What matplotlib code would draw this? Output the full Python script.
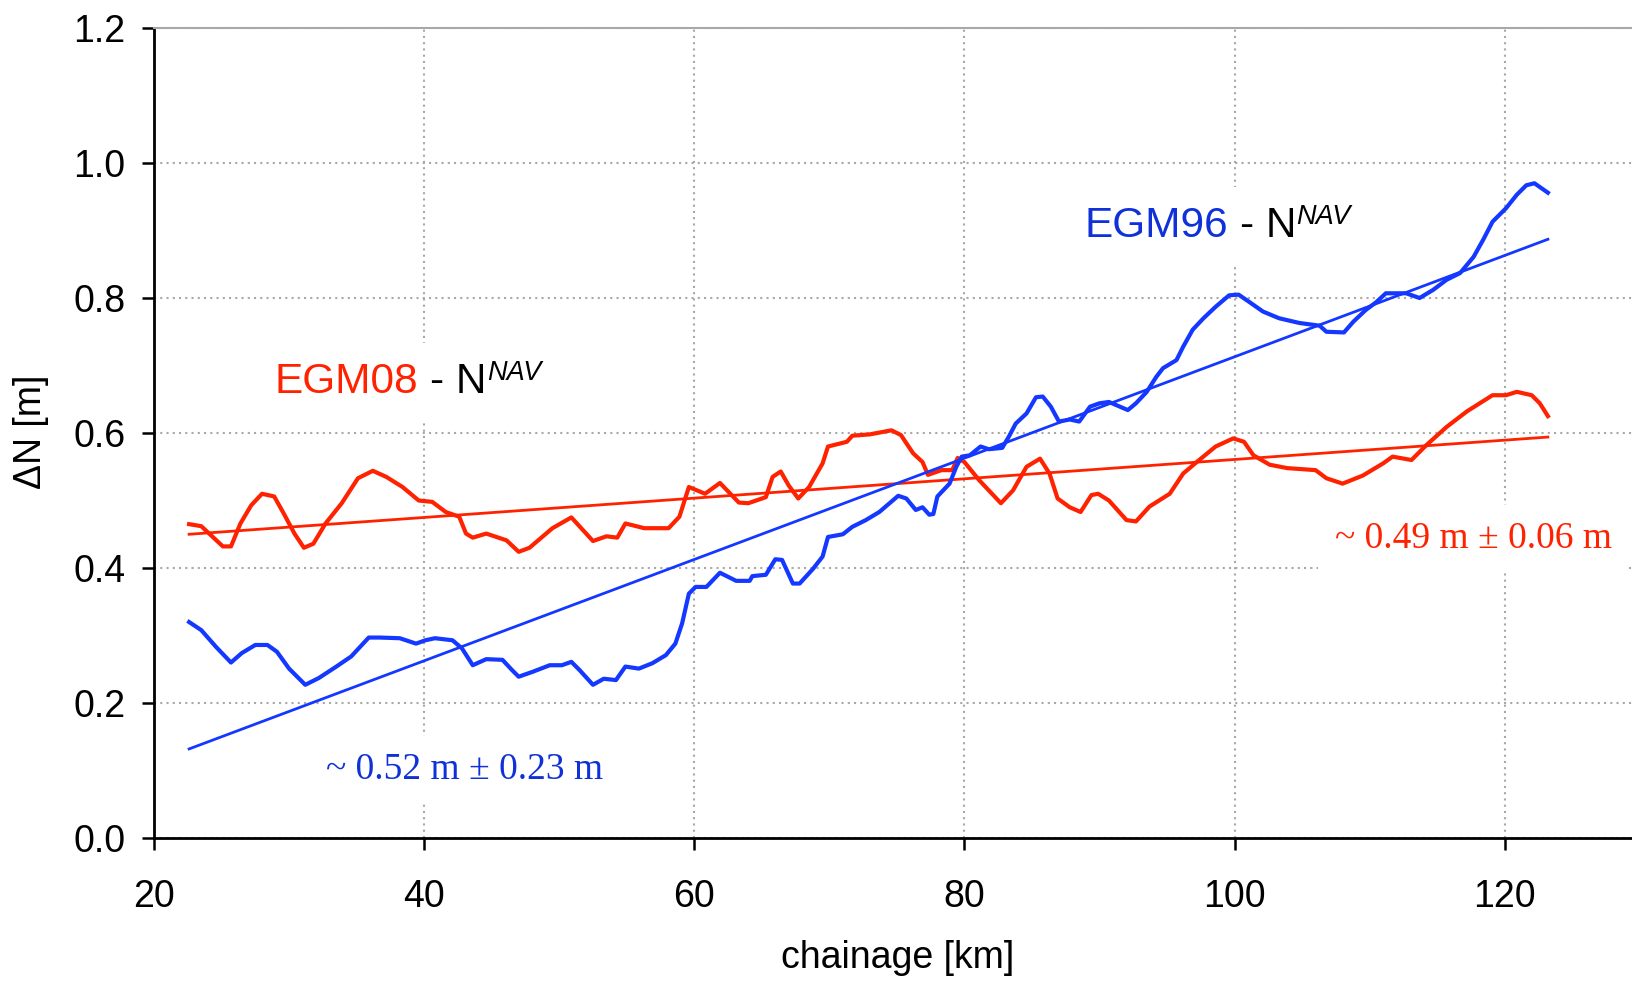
import matplotlib
matplotlib.use('Agg')
import matplotlib.pyplot as plt

plt.rcParams['font.family'] = ['Liberation Sans', 'DejaVu Sans']

RED = '#ff2200'
BLUE = '#1438ff'
BLUE_TXT = '#1030d8'

# ---- data ----
egm08_km = [22.6, 23.5, 25.1, 25.7, 26.4, 27.2, 28.0, 28.9, 29.6, 30.4,
            31.1, 31.8, 32.7, 33.9, 35.1, 36.2, 37.2, 38.4, 39.6, 40.6,
            41.6, 42.6, 43.1, 43.6, 44.6, 46.1, 47.0, 47.8, 49.5, 50.9,
            52.5, 53.5, 54.3, 54.9, 56.3, 58.1, 58.9, 59.6, 60.8, 61.9,
            63.3, 64.0, 65.3, 65.8, 66.4, 67.0, 67.7, 68.5, 69.5, 69.9,
            71.3, 71.7, 73.0, 74.6, 75.3, 76.2, 76.9, 77.3, 78.3, 79.1,
            79.5, 80.0, 81.1, 82.7, 83.6, 84.6, 85.6, 86.3, 86.9, 87.8,
            88.6, 89.4, 89.9, 90.7, 92.0, 92.7, 93.7, 95.2, 96.2, 97.2,
            98.6, 99.9, 100.7, 101.4, 102.6, 103.9, 106.0, 106.8, 108.0, 109.5,
            111.0, 111.7, 113.1, 114.2, 115.7, 117.2, 119.1, 120.1, 120.9, 122.0,
            122.6, 123.2]
egm08_dn = [0.465, 0.462, 0.432, 0.432, 0.466, 0.493, 0.510, 0.506, 0.481, 0.451,
            0.430, 0.436, 0.466, 0.496, 0.533, 0.544, 0.535, 0.520, 0.500, 0.498,
            0.483, 0.476, 0.451, 0.445, 0.451, 0.441, 0.424, 0.430, 0.459, 0.475,
            0.440, 0.447, 0.445, 0.466, 0.459, 0.459, 0.476, 0.520, 0.510, 0.526,
            0.497, 0.496, 0.505, 0.535, 0.543, 0.522, 0.503, 0.520, 0.555, 0.580,
            0.587, 0.596, 0.598, 0.604, 0.597, 0.570, 0.557, 0.538, 0.545, 0.545,
            0.563, 0.557, 0.530, 0.496, 0.515, 0.550, 0.562, 0.540, 0.503, 0.490,
            0.483, 0.508, 0.510, 0.500, 0.471, 0.469, 0.491, 0.510, 0.540, 0.557,
            0.580, 0.592, 0.587, 0.567, 0.553, 0.548, 0.545, 0.533, 0.525, 0.537,
            0.555, 0.565, 0.560, 0.582, 0.609, 0.632, 0.656, 0.656, 0.661, 0.656,
            0.644, 0.625]

egm96_km = [22.6, 23.5, 24.6, 25.7, 26.5, 27.5, 28.4, 29.1, 30.0, 31.2,
            32.2, 33.5, 34.6, 35.9, 36.7, 38.2, 39.4, 40.1, 40.8, 42.1,
            42.8, 43.6, 44.6, 45.8, 46.5, 47.0, 48.0, 49.3, 50.2, 50.9,
            51.5, 52.5, 53.3, 54.2, 54.9, 55.9, 56.9, 57.9, 58.6, 59.1,
            59.6, 60.1, 60.9, 61.9, 63.1, 64.1, 64.3, 65.3, 66.0, 66.5,
            67.3, 67.8, 68.8, 69.5, 69.9, 71.0, 71.7, 72.7, 73.7, 75.1,
            75.7, 76.4, 76.9, 77.4, 77.7, 78.0, 78.9, 79.4, 79.8, 80.4,
            81.2, 81.8, 82.8, 83.3, 83.8, 84.6, 85.3, 85.8, 86.4, 87.0,
            87.8, 88.5, 89.3, 90.0, 90.7, 92.1, 92.7, 93.5, 94.2, 94.7,
            95.7, 96.2, 96.9, 97.7, 98.6, 99.6, 100.3, 101.1, 102.1, 103.3,
            104.8, 106.3, 106.8, 108.1, 108.8, 109.7, 110.5, 111.2, 112.7, 113.7,
            114.7, 115.7, 116.7, 117.7, 118.4, 119.1, 120.1, 120.9, 121.6, 122.2,
            123.2]
egm96_dn = [0.320, 0.308, 0.283, 0.260, 0.274, 0.286, 0.286, 0.276, 0.251, 0.227,
            0.237, 0.254, 0.269, 0.297, 0.297, 0.296, 0.288, 0.293, 0.296, 0.293,
            0.281, 0.256, 0.265, 0.264, 0.249, 0.239, 0.246, 0.256, 0.256, 0.261,
            0.249, 0.227, 0.236, 0.234, 0.254, 0.251, 0.259, 0.271, 0.288, 0.318,
            0.362, 0.372, 0.372, 0.393, 0.381, 0.381, 0.388, 0.390, 0.413, 0.412,
            0.377, 0.377, 0.399, 0.417, 0.446, 0.450, 0.461, 0.471, 0.483, 0.507,
            0.503, 0.486, 0.490, 0.479, 0.480, 0.506, 0.525, 0.550, 0.565, 0.567,
            0.580, 0.576, 0.578, 0.595, 0.614, 0.629, 0.653, 0.654, 0.639, 0.617,
            0.620, 0.617, 0.639, 0.644, 0.646, 0.634, 0.644, 0.661, 0.683, 0.696,
            0.708, 0.728, 0.753, 0.770, 0.787, 0.804, 0.805, 0.794, 0.780, 0.770,
            0.763, 0.759, 0.750, 0.749, 0.765, 0.782, 0.794, 0.807, 0.807, 0.800,
            0.812, 0.827, 0.837, 0.861, 0.886, 0.913, 0.933, 0.953, 0.967, 0.970,
            0.956]

# linear trends (end points)
trend_km = [22.6, 123.2]
egm08_trend = [0.450, 0.594]
egm96_trend = [0.132, 0.887]

x_ticks = [20, 40, 60, 80, 100, 120]
y_ticks = [0.0, 0.2, 0.4, 0.6, 0.8, 1.0, 1.2]

# ---- figure ----
fig = plt.figure(figsize=(16.33, 9.82), dpi=100)
ax = fig.add_axes([0.0943, 0.1466, 0.9057, 0.8249])

ax.plot(trend_km, egm08_trend, color=RED, lw=2.0, zorder=2)
ax.plot(egm08_km, egm08_dn, color=RED, lw=3.0, zorder=2)
ax.plot(trend_km, egm96_trend, color=BLUE, lw=2.0, zorder=2)
ax.plot(egm96_km, egm96_dn, color=BLUE, lw=3.0, zorder=2)

ax.set_xlim(20, 129.5)
ax.set_ylim(0, 1.2)
ax.set_xticks(x_ticks)
ax.set_yticks(y_ticks)
ax.set_yticklabels([f'{v:.1f}' for v in y_ticks])
ax.set_axisbelow(True)
ax.grid(True, color='#a8a8a8', linestyle=(0, (1, 2)), linewidth=1.5)

for s in ['left', 'bottom']:
    ax.spines[s].set_linewidth(2.0)
ax.spines['right'].set_visible(False)
ax.spines['top'].set_color('#a8a8a8')
ax.spines['top'].set_linewidth(1.5)

ax.tick_params(axis='both', direction='out', length=8.5, width=1.8, labelsize=27)
ax.tick_params(axis='x', pad=21)
ax.tick_params(axis='y', pad=12)

ax.set_xlabel('chainage [km]', fontsize=27)
ax.xaxis.label.set_va('center')
ax.xaxis.set_label_coords(0.503, -0.148)
ax.set_ylabel('ΔN [m]', fontsize=27)
ax.yaxis.label.set_va('center')
ax.yaxis.set_label_coords(-0.0832, 0.501)

box = dict(boxstyle='square,pad=0.45', fc='white', ec='none')


def label(x, y, s, **kw):
    # white box first (hides grid), then the text on top
    kw_box = {k: v for k, v in kw.items() if k != 'color'}
    ax.text(x, y, s, color='none', bbox=box, zorder=3, ha='left', va='baseline', **kw_box)
    ax.text(x, y, s, zorder=4, ha='left', va='baseline', **kw)


label(28.9, 0.659, 'EGM08', color=RED, fontsize=30.5)
label(40.44, 0.659, '- N', color='black', fontsize=30.5)
label(44.67, 0.679, 'NAV', color='black', fontsize=19.5, style='italic')

label(88.89, 0.890, 'EGM96', color=BLUE_TXT, fontsize=30.5)
label(100.44, 0.890, '- N', color='black', fontsize=30.5)
label(104.59, 0.910, 'NAV', color='black', fontsize=19.5, style='italic')

label(32.74, 0.0874, '~ 0.52 m ± 0.23 m', color=BLUE_TXT, fontsize=27,
      family=['Liberation Serif', 'DejaVu Serif'])
label(107.41, 0.4296, '~ 0.49 m ± 0.06 m', color=RED, fontsize=27,
      family=['Liberation Serif', 'DejaVu Serif'])

fig.savefig('out.png', dpi=100)
